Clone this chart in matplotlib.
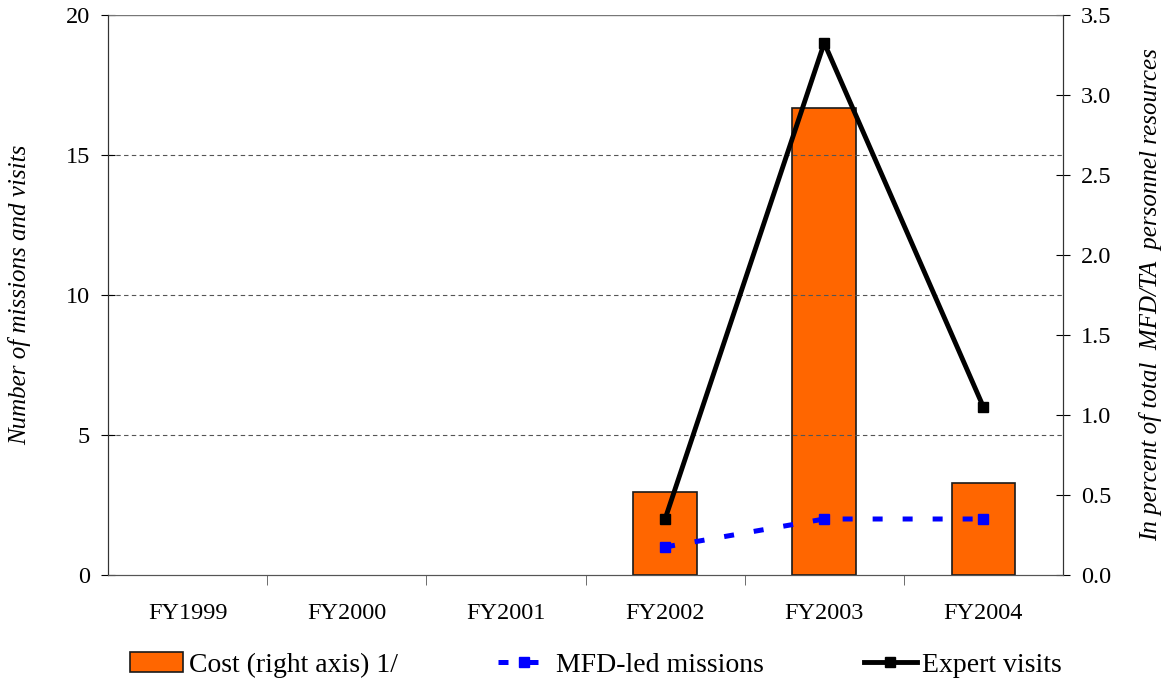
import numpy as np
import matplotlib.pyplot as plt

years = ["FY1999", "FY2000", "FY2001", "FY2002", "FY2003", "FY2004"]
cost_pct = [0, 0, 0, 0.52, 2.92, 0.575]
mfd_missions = [None, None, None, 1, 2, 2]
expert_visits = [None, None, None, 2, 19, 6]

plt.rcParams['font.family'] = ['Liberation Serif', 'DejaVu Serif']

fig = plt.figure(figsize=(11.69, 6.83), dpi=100)
ax = fig.add_axes([108 / 1169, 1 - 575 / 683, 955 / 1169, 560 / 683])
ax2 = ax.twinx()

x = np.arange(len(years))

# bars on the right axis, lines on the left
ax2.bar(x[3:], cost_pct[3:], width=0.4, color='#ff6600', edgecolor='#1a1a1a',
        linewidth=1.2, label='Cost (right axis) 1/')
ax2.set_ylim(0, 3.5)
ax2.set_yticks(np.arange(0, 3.51, 0.5))
ax2.set_yticklabels([f"{v:.1f}" for v in np.arange(0, 3.51, 0.5)])

ax.set_zorder(ax2.get_zorder() + 1)
ax.patch.set_visible(False)

mx = [i for i, v in enumerate(mfd_missions) if v is not None]
my = [v for v in mfd_missions if v is not None]
ex = [i for i, v in enumerate(expert_visits) if v is not None]
ey = [v for v in expert_visits if v is not None]

ax.plot(mx, my, color='#0000ff', linestyle=(0, (2, 4)), linewidth=3.6,
        marker='s', markersize=7, label='MFD-led missions')
ax.plot(ex, ey, color='black', linewidth=3.5, marker='s', markersize=7.5,
        label='Expert visits')

ax.set_xlim(-0.5, 5.5)
ax.set_ylim(0, 20)
ax.set_yticks([0, 5, 10, 15, 20])
for yv in [5, 10, 15]:
    ax.axhline(yv, color='#555555', linestyle=(0, (4, 3)), linewidth=0.8, zorder=0)
ax.axhline(20, color='#777777', linewidth=1)

ax.set_xticks(x)
ax.set_xticklabels(years)
ax.set_xticks(np.arange(0.5, 5.5, 1), minor=True)
ax.tick_params(axis='x', which='major', length=0, pad=20, labelsize=17.5)
ax.tick_params(axis='x', which='minor', length=7, direction='out', color='#555555')
ax.tick_params(axis='y', direction='inout', length=10, labelsize=17.5, pad=8)
ax2.tick_params(axis='y', direction='inout', length=10, labelsize=17.5, pad=8)

for a in (ax, ax2):
    a.spines['top'].set_visible(False)
    a.spines['left'].set_color('#333333')
    a.spines['right'].set_color('#333333')
    a.spines['bottom'].set_color('#555555')

ax.set_ylabel('Number of missions and visits', fontsize=18, style='italic')
ax.yaxis.set_label_coords(-0.080, 0.5)
ax2.set_ylabel('In percent of total  MFD/TA  personnel resources', fontsize=18,
               style='italic', rotation=90)
ax2.yaxis.set_label_coords(1.080, 0.5)

h1, l1 = ax2.get_legend_handles_labels()
h2, l2 = ax.get_legend_handles_labels()
fig.legend(h1 + h2, l1 + l2, loc='center', bbox_to_anchor=(0.51, 1 - 665 / 683),
           ncol=3, frameon=False, fontsize=20, columnspacing=3.6, handlelength=1.9,
           handletextpad=0.2)

fig.savefig('out.png', dpi=100)
